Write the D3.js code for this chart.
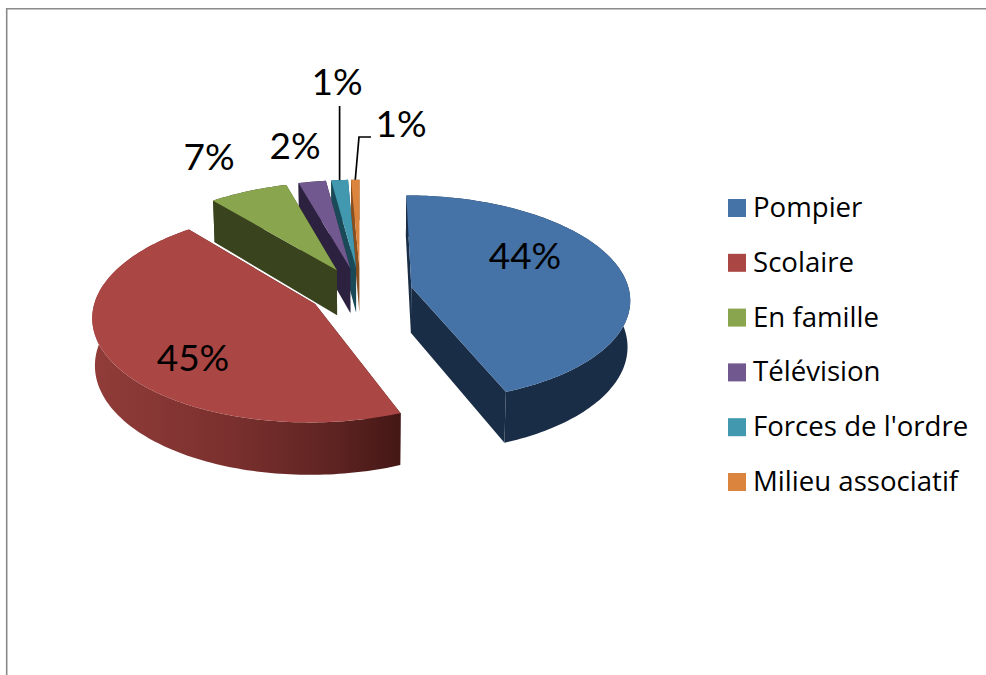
<!DOCTYPE html>
<html>
<head>
<meta charset="utf-8">
<script src="https://cdn.jsdelivr.net/npm/d3@7/dist/d3.min.js"></script>
<style>
html,body{margin:0;padding:0;background:#fff;overflow:hidden}
svg{display:block}
text{font-family:Lato,"Open Sans",sans-serif;fill:#000}
text.leg{font-family:"Open Sans",Lato,sans-serif}
</style>
</head>
<body>
<svg id="chart" width="986" height="675"></svg>
<script>
const categories = ["Pompier","Scolaire","En famille","Télévision","Forces de l'ordre","Milieu associatif"];
const values = [44,45,6.6,2.3,1.4,0.7];
const labels = ["44%","45%","7%","2%","1%","1%"];
const topColors = ["#4572A7","#AA4643","#89A54E","#71588F","#4198AF","#DB843D"];
const sideColors = ["#1a2d46","url(#redSide)","#39431d","#2c2240","#1a4a57","#8a4f1f"];
const drawOrder = [5,4,3,2,0,1];

const W=986,H=675;
const cx=360.5, cy=291.5, R=218, explode=52, persp=0.0005, squash=0.47, depth=46, bottomScale=0.99;
const svg=d3.select("#chart");

const defs=svg.append("defs");
const g=defs.append("linearGradient").attr("id","redSide");
[[0,"#913c39"],[0.45,"#7a302e"],[0.8,"#5c2321"],[1,"#441715"]].forEach(([o,c])=>g.append("stop").attr("offset",o).attr("stop-color",c));

// frame
svg.append("line").attr("x1",6.7).attr("x2",6.7).attr("y1",8).attr("y2",H).attr("stroke","#8a8a8a").attr("stroke-width",1.6);
svg.append("line").attr("x1",6).attr("x2",W).attr("y1",8.7).attr("y2",8.7).attr("stroke","#8a8a8a").attr("stroke-width",1.5);

const arcs=d3.pie().sort(null).startAngle(0).endAngle(2*Math.PI)(values);
const line=d3.line().x(d=>d[0]).y(d=>d[1]);

function project(a,r,t,z){
  const mid=(a.startAngle+a.endAngle)/2;
  const X=explode*Math.sin(mid)+r*Math.sin(t);
  const Y=explode*Math.cos(mid)+r*Math.cos(t);
  const s=1/(1+persp*Y);
  return [cx+X*s*(z?bottomScale:1), cy-squash*Y*s+z*s];
}
function rim(a,z){
  const n=Math.max(4,Math.ceil((a.endAngle-a.startAngle)/0.02));
  return d3.range(n+1).map(i=>project(a,R,a.startAngle+(a.endAngle-a.startAngle)*i/n,z));
}

const slices=svg.append("g");
drawOrder.forEach(i=>{
  const a=arcs[i];
  const gs=slices.append("g");
  const topRim=rim(a,0), botRim=rim(a,depth);
  const c0=project(a,0,0,0), c1=project(a,0,0,depth);
  // cut faces
  [[c0,topRim[0],botRim[0],c1],[c0,topRim[topRim.length-1],botRim[botRim.length-1],c1]].forEach(f=>{
    gs.append("path").attr("d",line(f)+"Z").attr("fill",i===1?"#441715":sideColors[i]);
  });
  // outer wall
  gs.append("path").attr("d",line(topRim.concat(botRim.slice().reverse()))+"Z").attr("fill",sideColors[i]);
  // top
  gs.append("path").attr("d",line([c0].concat(topRim))+"Z").attr("fill",topColors[i]);
});

// data labels
const labelAt=[[525,269],[193,371],[209,170],[295,159],[337,95],[401,137]];
svg.append("g").selectAll("text").data(labels).join("text")
  .attr("x",(d,i)=>labelAt[i][0]).attr("y",(d,i)=>labelAt[i][1])
  .attr("text-anchor","middle").attr("font-size",37).text(d=>d);

// leader lines
const midOf=a=>(a.startAngle+a.endAngle)/2;
const tealRim=project(arcs[4],R,midOf(arcs[4]),0);
const orangeRim=project(arcs[5],R,midOf(arcs[5]),0);
svg.append("path").attr("d",line([tealRim,[tealRim[0],106]])).attr("fill","none").attr("stroke","#000").attr("stroke-width",1.7);
svg.append("path").attr("d",line([orangeRim,[359,137],[371,137]])).attr("fill","none").attr("stroke","#000").attr("stroke-width",1.7);

// legend
const ly=d3.scaleLinear().domain([0,5]).range([208,482]);
const leg=svg.append("g").selectAll("g").data(categories).join("g").attr("transform",(d,i)=>`translate(728,${ly(i)})`);
leg.append("rect").attr("x",0).attr("y",-9).attr("width",18).attr("height",18).attr("fill",(d,i)=>topColors[i]);
leg.append("text").attr("class","leg").attr("x",25).attr("y",9).attr("font-size",27.6).text(d=>d);
</script>
</body>
</html>
